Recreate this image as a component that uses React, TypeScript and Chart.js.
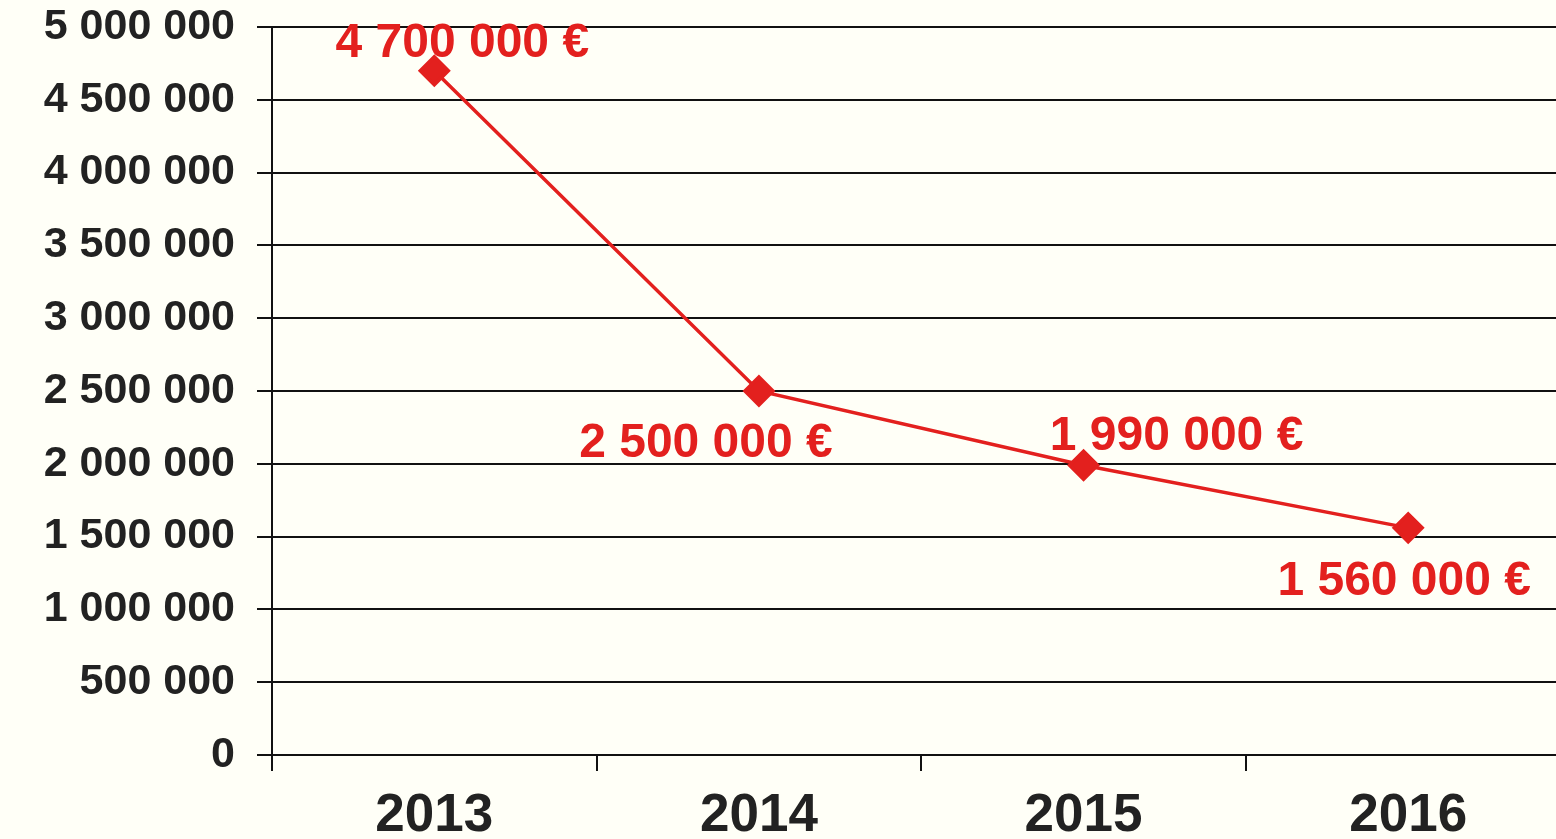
import React, { useEffect, useRef } from "react";
import { Chart, registerables } from "chart.js";

Chart.register(...registerables);

const years = ["2013", "2014", "2015", "2016"];
const amounts = [4700000, 2500000, 1990000, 1560000];
const yTickValues = [0, 500000, 1000000, 1500000, 2000000, 2500000, 3000000, 3500000, 4000000, 4500000, 5000000];
// label offsets relative to each point (dx, dy)
const labelOffsets = [
  [28, -27],
  [-53, 53],
  [93, -28],
  [-4, 54],
];

const fmt = (v: number) => {
  const s = Math.round(v).toString();
  return s.replace(/\B(?=(\d{3})+(?!\d))/g, " ");
};

const RED = "#e3201e";
const FONT = "'Liberation Sans', Arial, sans-serif";
const CANVAS_W = 1588;

const bgPlugin = {
  id: "bg",
  beforeDraw(chart: any) {
    const { ctx, width, height } = chart;
    ctx.save();
    ctx.fillStyle = "#fffff7";
    ctx.fillRect(0, 0, width, height);
    ctx.restore();
  },
};

const labelPlugin = {
  id: "pointLabels",
  afterDatasetsDraw(chart: any) {
    const { ctx } = chart;
    const meta = chart.getDatasetMeta(0);
    ctx.save();
    ctx.font = `bold 48px ${FONT}`;
    ctx.fillStyle = RED;
    ctx.textAlign = "center";
    ctx.textBaseline = "middle";
    meta.data.forEach((pt: any, i: number) => {
      const [dx, dy] = labelOffsets[i];
      ctx.fillText(fmt(amounts[i]) + " €", pt.x + dx, pt.y + dy);
    });
    ctx.restore();
  },
};

export default function App() {
  const ref = useRef<HTMLCanvasElement | null>(null);
  useEffect(() => {
    if (!ref.current) return;
    const chart = new Chart(ref.current, {
      type: "line",
      data: {
        labels: years,
        datasets: [
          {
            data: amounts,
            borderColor: RED,
            backgroundColor: RED,
            borderWidth: 3.5,
            pointStyle: "rectRot",
            pointRadius: 14,
            pointHoverRadius: 14,
            pointBackgroundColor: RED,
            pointBorderColor: RED,
            tension: 0,
          },
        ],
      },
      options: {
        animation: false,
        responsive: false,
        maintainAspectRatio: false,
        layout: { padding: { top: 27, right: 0, left: 0, bottom: 0 } },
        plugins: { legend: { display: false }, tooltip: { enabled: false } },
        scales: {
          x: {
            type: "category",
            offset: true,
            grid: {
              offset: true,
              drawOnChartArea: false,
              drawTicks: true,
              tickLength: 16,
              color: "#111",
              lineWidth: 2,
            },
            border: { display: true, color: "#111", width: 2 },
            ticks: {
              color: "#222",
              font: { family: FONT, size: 53, weight: "bold" },
              padding: 14,
            },
            afterFit(scale: any) {
              scale.height = 84;
              scale.paddingLeft = 0;
              scale.paddingRight = 0;
            },
          },
          y: {
            min: 0,
            max: 5000000,
            afterBuildTicks(scale: any) {
              scale.ticks = yTickValues.map((v) => ({ value: v }));
            },
            grid: {
              color: "#111",
              lineWidth: 2,
              drawTicks: true,
              tickLength: 15,
            },
            border: { display: true, color: "#111", width: 2 },
            ticks: {
              color: "#222",
              font: { family: FONT, size: 43, weight: "bold" },
              padding: 22,
              callback: (v: any) => fmt(Number(v)),
            },
            afterFit(scale: any) {
              scale.width = 272;
              scale.paddingTop = 0;
              scale.paddingBottom = 0;
            },
          },
        },
      },
      plugins: [bgPlugin, labelPlugin],
    });
    return () => chart.destroy();
  }, []);
  return (
    <div style={{ position: "fixed", left: 0, top: 0, width: 1556, height: 839, overflow: "hidden", background: "#fffff7" }}>
      <canvas ref={ref} width={CANVAS_W} height={839} style={{ display: "block" }} />
    </div>
  );
}
